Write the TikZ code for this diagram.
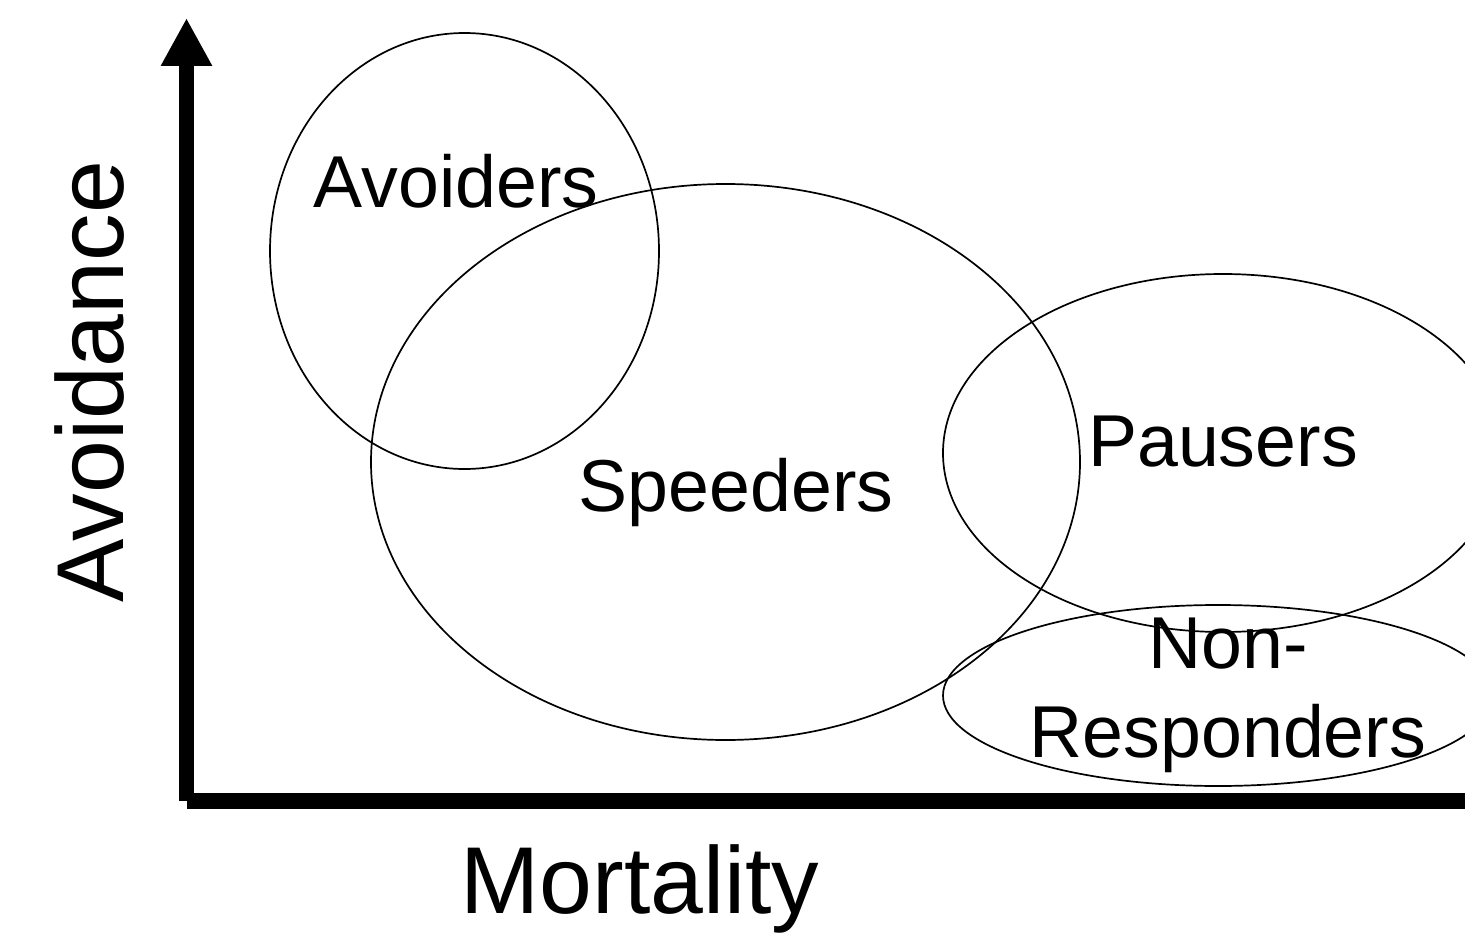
\documentclass[tikz,border=0pt]{standalone}
\usepackage{fontspec}
\setmainfont{Liberation Sans}
\usetikzlibrary{arrows.meta,shapes.geometric}
\tikzset{
  group/.style={draw, ellipse, inner sep=0pt, line width=1.7pt},
  glabel/.style={anchor=base, inner sep=0pt, font=\fontsize{73.5}{80}\selectfont},
  axlabel/.style={anchor=base, inner sep=0pt, font=\fontsize{95}{100}\selectfont},
  axis/.style={line width=15.5pt},
}
\begin{document}
\begin{tikzpicture}[x=1pt, y=-1pt]
    \clip (0,0) rectangle (1465,934);
    \node[group, minimum width=389pt, minimum height=436pt] (avoid) at (464.5,251) {};
    \node[group, minimum width=709pt, minimum height=556pt] (speed) at (725.5,462) {};
    \node[group, minimum width=560pt, minimum height=358pt] (pause) at (1223,453) {};
    \node[group, minimum width=550pt, minimum height=181pt] (nonresp) at (1218,695.5) {};
    \node[glabel] (lavoid) at (456,207) {Avoiders};
    \node[glabel] (lspeed) at (736,511) {Speeders};
    \node[glabel] (lpause) at (1223,466) {Pausers};
    \node[glabel] (lnon) at (1228,668) {Non-};
    \node[glabel] (lresp) at (1228,757) {Responders};
    \coordinate (origin) at (186.5,801);
    \coordinate (ytop) at (186.5,18);
    \coordinate (xend) at (1480,801);
    \draw[axis, -{Triangle[length=48pt, width=48pt]}] (origin) -- (ytop);
    \draw[axis] ([xshift=0.5pt]origin) -- (xend);
    \node[axlabel] (xlab) at (640,913) {Mortality};
    \node[axlabel, rotate=90] (ylab) at (123,382) {Avoidance};
  \end{tikzpicture}
\end{document}
